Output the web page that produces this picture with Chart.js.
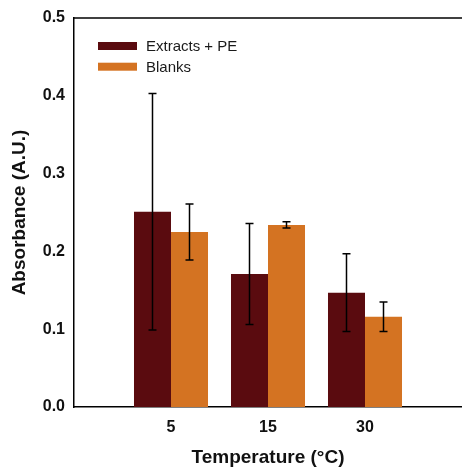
<!DOCTYPE html>
<html>
<head>
<meta charset="utf-8">
<script src="https://cdn.jsdelivr.net/npm/chart.js@4/dist/chart.umd.min.js"></script>
<style>
  html, body { margin: 0; padding: 0; background: #fff; }
  #wrap { width: 462px; height: 468px; }
</style>
</head>
<body>
<div id="wrap"><canvas id="absorb-chart" width="462" height="468"></canvas></div>
<script>
// values
const temps = ['5', '15', '30'];
const extracts = [0.251, 0.171, 0.147];
const extractsErr = [0.152, 0.065, 0.050];
const blanks = [0.225, 0.234, 0.116];
const blanksErr = [0.036, 0.004, 0.019];
const yTicks = [0, 0.1, 0.2, 0.3, 0.4, 0.5];

const MAROON = '#5a0b0f',
      ORANGE = '#d47322',
      FONT = "'Liberation Sans', Arial, sans-serif";

// empty slots either side so the three groups sit at 1/4, 2/4, 3/4 of the axis
const pad = (arr) => [null].concat(arr, [null]);

const errorBars = {
    id: 'errorBars',
    afterDatasetsDraw(chart) {
        const ctx = chart.ctx, y = chart.scales.y;
        ctx.save();
        ctx.strokeStyle = '#000';
        ctx.lineWidth = 1.5;
        chart.data.datasets.forEach((ds, di) => {
            const meta = chart.getDatasetMeta(di);
            meta.data.forEach((bar, i) => {
                const v = ds.data[i], e = ds.errors[i];
                if (v == null || e == null) return;
                const top = y.getPixelForValue(v + e), bot = y.getPixelForValue(v - e);
                ctx.beginPath();
                ctx.moveTo(bar.x, top); ctx.lineTo(bar.x, bot);
                ctx.moveTo(bar.x - 4, top); ctx.lineTo(bar.x + 4, top);
                ctx.moveTo(bar.x - 4, bot); ctx.lineTo(bar.x + 4, bot);
                ctx.stroke();
            });
        });
        ctx.restore();
    }
};

const frameAndLegend = {
    id: 'frameAndLegend',
    afterDraw(chart) {
        const ctx = chart.ctx, a = chart.chartArea;
        ctx.save();
        // top frame line
        ctx.strokeStyle = '#000';
        ctx.lineWidth = 1.5;
        ctx.beginPath();
        ctx.moveTo(a.left, a.top); ctx.lineTo(a.right, a.top);
        ctx.stroke();
        // legend inside the plot
        ctx.font = '15px ' + FONT;
        ctx.textBaseline = 'middle';
        chart.data.datasets.forEach((ds, i) => {
            const cy = 46 + i * 20.7;
            ctx.fillStyle = ds.backgroundColor;
            ctx.fillRect(98, cy - 4, 39, 8);
            ctx.fillStyle = '#1a1a1a';
            ctx.fillText(ds.label, 146, cy + 1);
        });
        ctx.restore();
    }
};

new Chart(document.getElementById('absorb-chart'), {
    type: 'bar',
    data: {
        labels: pad(temps).map(t => t == null ? '' : t),
        datasets: [{
            label: 'Extracts + PE',
            data: pad(extracts),
            errors: pad(extractsErr),
            backgroundColor: MAROON
        }, {
            label: 'Blanks',
            data: pad(blanks),
            errors: pad(blanksErr),
            backgroundColor: ORANGE
        }]
    },
    options: {
        responsive: false,
        animation: false,
        events: [],
        layout: { padding: { top: 18, right: 0, left: 0, bottom: 0 } },
        datasets: { bar: { categoryPercentage: 0.763, barPercentage: 1 } },
        plugins: { legend: { display: false }, tooltip: { enabled: false } },
        scales: {
            x: {
                offset: false,
                grid: { display: false, drawTicks: false },
                border: { display: true, color: '#000', width: 1.5 },
                ticks: { padding: 11, color: '#111', font: { family: FONT, size: 16, weight: 'bold' }, autoSkip: false, maxRotation: 0 },
                title: { display: true, text: 'Temperature (°C)', color: '#111',
                         font: { family: FONT, size: 19, weight: 'bold', lineHeight: 1 }, padding: { top: 0, bottom: 0.5 } },
                afterFit: (s) => { s.height = 61; s.paddingLeft = 0; s.paddingRight = 0; }
            },
            y: {
                min: 0, max: 0.5,
                afterBuildTicks: (s) => { s.ticks = yTicks.map(v => ({ value: v })); },
                grid: { display: false, drawTicks: false },
                border: { display: true, color: '#000', width: 1.5 },
                ticks: { padding: 9, color: '#111', font: { family: FONT, size: 16, weight: 'bold' },
                         callback: (v) => v.toFixed(1) },
                title: { display: true, text: 'Absorbance (A.U.)', color: '#111',
                         font: { family: FONT, size: 19, weight: 'bold', lineHeight: 1 }, padding: { top: 10.5, bottom: 0 } },
                afterFit: (s) => { s.width = 74; s.paddingTop = 0; s.paddingBottom = 0; }
            }
        }
    },
    plugins: [errorBars, frameAndLegend]
});
</script>
</body>
</html>
